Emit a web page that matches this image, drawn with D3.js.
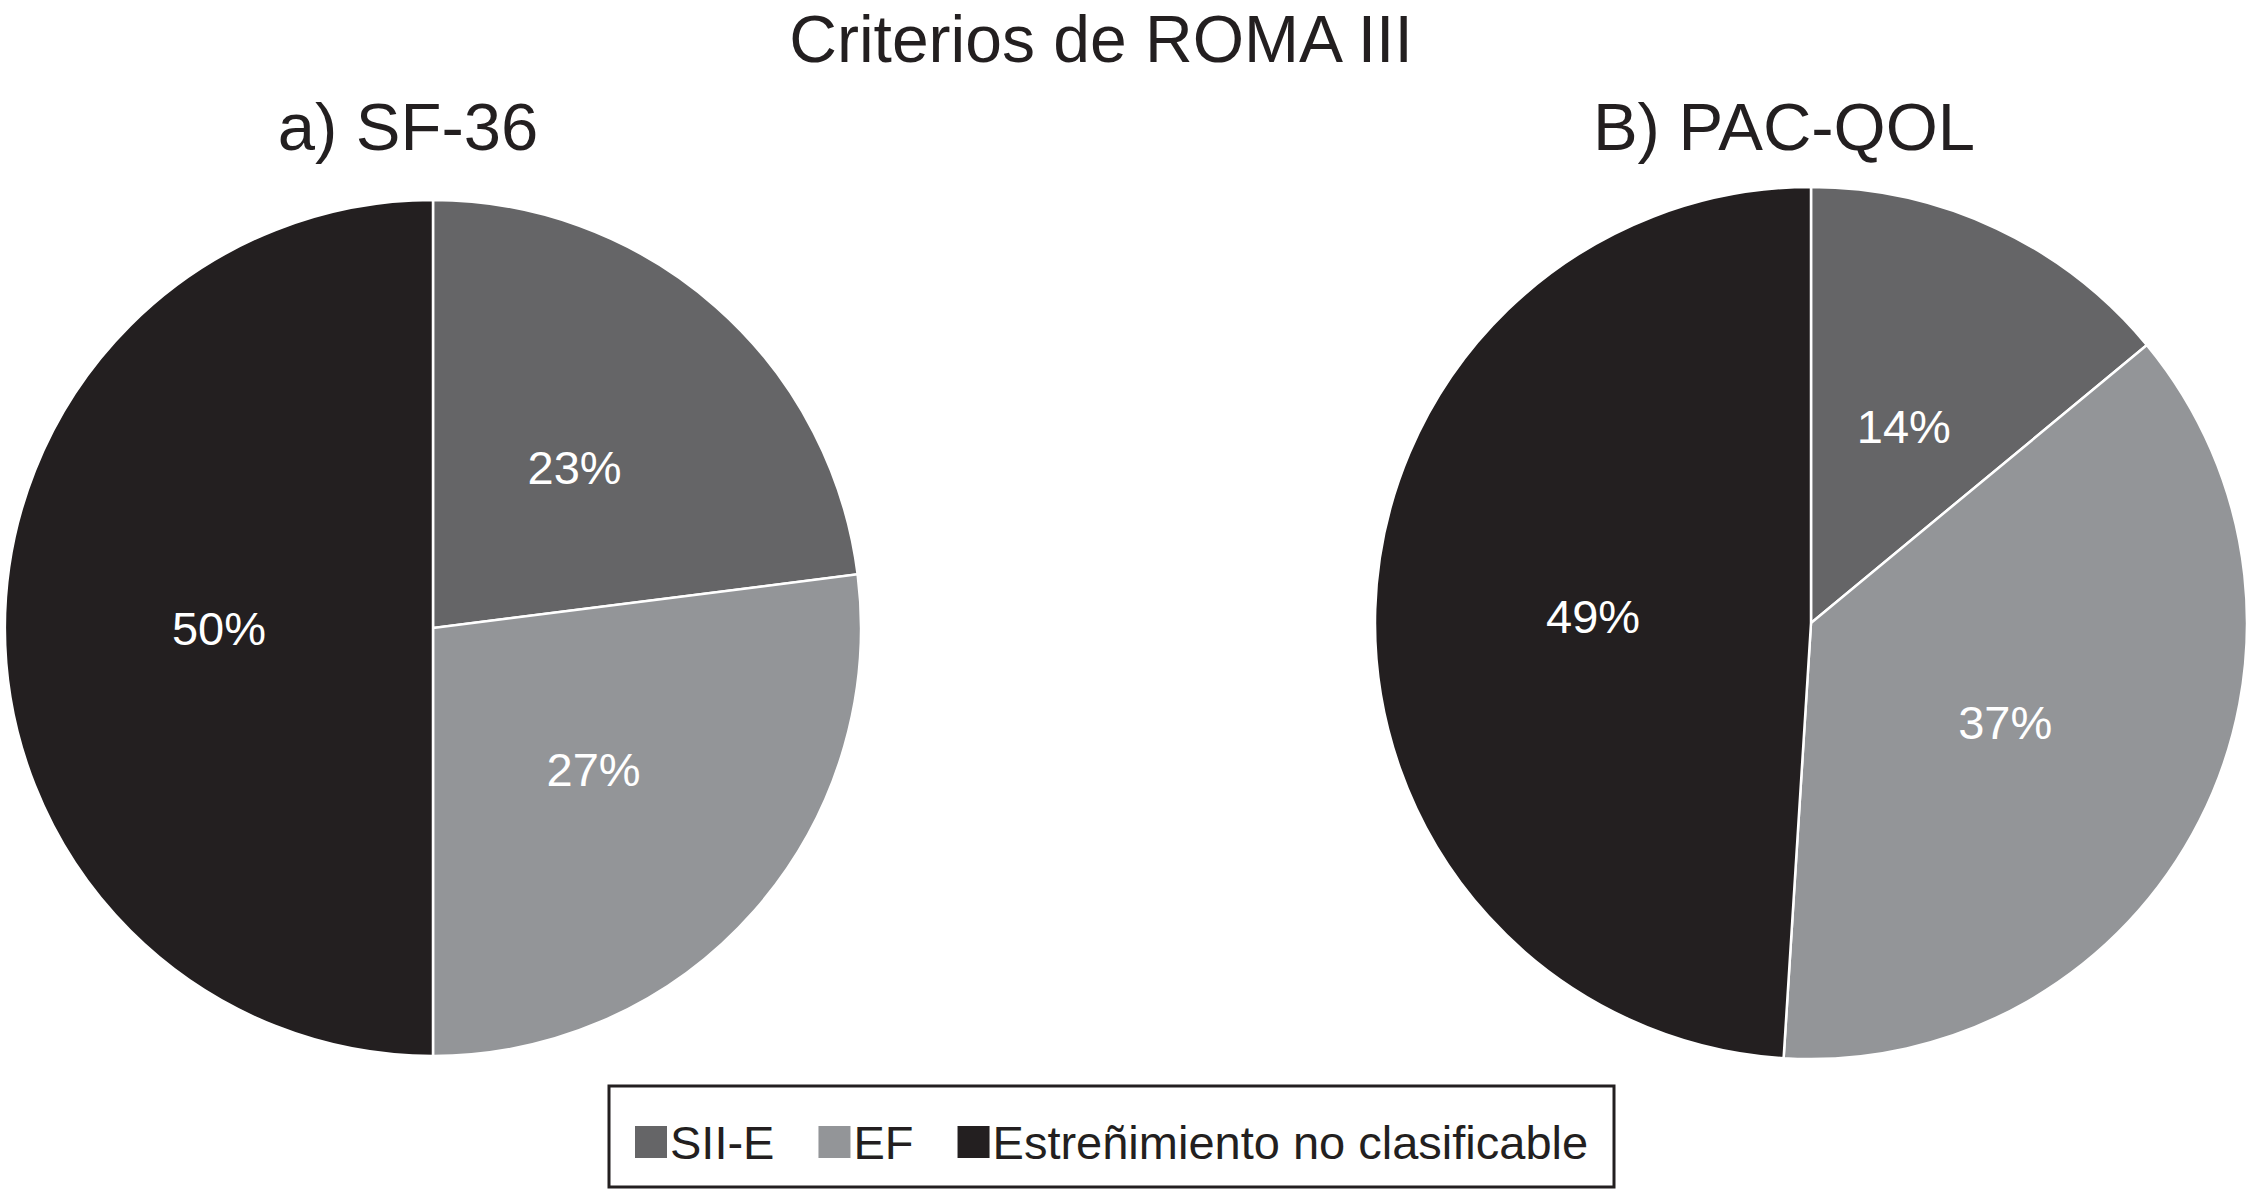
<!DOCTYPE html>
<meta charset="utf-8">
<style>
body { margin: 0; background: #fff; }
text { font-family: "Liberation Sans", Arial, sans-serif; }
.slice { stroke: #fff; stroke-width: 2.5; }
</style>
<svg width="2247" height="1191"></svg>
<script src="https://d3js.org/d3.v7.min.js"></script>
<script>

var categories = ["SII-E", "EF", "Estreñimiento no clasificable"];
var sf36 = [23, 27, 50];
var pacqol = [14, 37, 49];
var colors = ["#656567", "#939598", "#231f20"];
var titles = ["a) SF-36", "B) PAC-QOL"];

var svg = d3.select("svg");

var color = d3.scaleOrdinal()
    .domain(categories)
    .range(colors);

var pie = d3.pie()
    .sort(null)
    .value(function(d) { return d.value; });

svg.append("text")
    .attr("x", 1101)
    .attr("y", 62)
    .attr("text-anchor", "middle")
    .attr("font-size", 66)
    .attr("fill", "#231f20")
    .text("Criterios de ROMA III");

var charts = [
  {title: titles[0], values: sf36, cx: 433, cy: 628, r: 428, tx: 408},
  {title: titles[1], values: pacqol, cx: 1811, cy: 623, r: 436, tx: 1784}
];

charts.forEach(function(c) {
  var data = categories.map(function(k, i) { return {key: k, value: c.values[i]}; });
  var arc = d3.arc().innerRadius(0).outerRadius(c.r);

  svg.append("text")
      .attr("x", c.tx)
      .attr("y", 150)
      .attr("text-anchor", "middle")
      .attr("font-size", 67)
      .attr("fill", "#231f20")
      .text(c.title);

  var g = svg.append("g")
      .attr("transform", "translate(" + c.cx + "," + c.cy + ")");

  g.selectAll("path")
    .data(pie(data))
    .enter().append("path")
      .attr("class", "slice")
      .attr("fill", function(d) { return color(d.data.key); })
      .attr("d", arc);

  g.selectAll("text")
    .data(pie(data))
    .enter().append("text")
      .attr("transform", function(d) { return "translate(" + arc.centroid(d) + ")"; })
      .attr("dy", "0.36em")
      .attr("text-anchor", "middle")
      .attr("font-size", 47)
      .attr("fill", "#fff")
      .text(function(d) { return d.data.value + "%"; });
});

// legend
var legend = svg.append("g");

legend.append("rect")
    .attr("x", 609)
    .attr("y", 1086)
    .attr("width", 1005)
    .attr("height", 101)
    .attr("fill", "none")
    .attr("stroke", "#231f20")
    .attr("stroke-width", 3);

var lx = 635;
categories.forEach(function(k) {
  legend.append("rect")
      .attr("x", lx)
      .attr("y", 1126)
      .attr("width", 32)
      .attr("height", 32)
      .attr("fill", color(k));
  var t = legend.append("text")
      .attr("x", lx + 35)
      .attr("y", 1159)
      .attr("font-size", 47)
      .attr("fill", "#231f20")
      .text(k);
  lx += 35 + t.node().getComputedTextLength() + 44;
});

</script>
